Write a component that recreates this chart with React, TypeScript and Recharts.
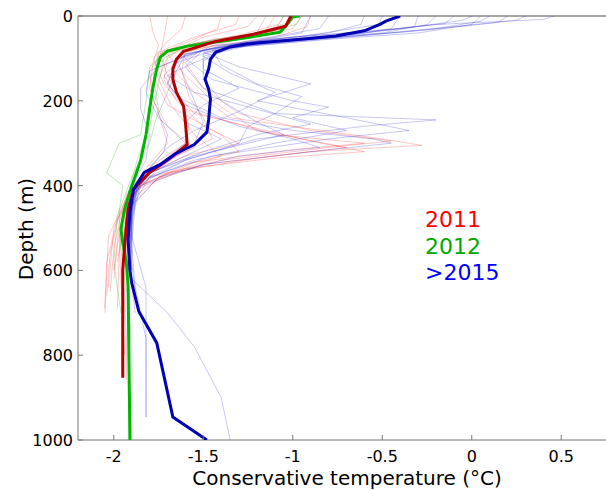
import { ScatterChart, Scatter, XAxis, YAxis, ReferenceLine } from 'recharts'

// profiles are [depth (m), conservative temperature (°C)] pairs
const mean2011 = [
  [0, -1.01], [24, -1.04], [43, -1.22], [61, -1.44], [83, -1.61], [102, -1.65],
  [125, -1.67], [149, -1.67], [180, -1.65], [213, -1.61], [250, -1.6], [303, -1.59],
  [340, -1.7], [369, -1.8], [409, -1.89], [456, -1.92], [496, -1.93], [544, -1.94],
  [600, -1.95], [700, -1.95], [853, -1.95],
]

const mean2012 = [
  [0, -0.96], [2, -1.0], [19, -1.03], [38, -1.07], [50, -1.24], [61, -1.42],
  [71, -1.59], [83, -1.7], [97, -1.74], [125, -1.76], [165, -1.78], [220, -1.8],
  [280, -1.82], [340, -1.85], [378, -1.88], [414, -1.91], [456, -1.94], [503, -1.96],
  [534, -1.95], [581, -1.93], [638, -1.92], [1000, -1.91],
]

const mean2015 = [
  [0, -0.4], [12, -0.48], [19, -0.51], [35, -0.6], [47, -0.76], [54, -0.94],
  [61, -1.12], [66, -1.26], [73, -1.35], [85, -1.43], [102, -1.46], [125, -1.47],
  [149, -1.49], [173, -1.47], [196, -1.46], [244, -1.47], [274, -1.48], [303, -1.55],
  [326, -1.66], [350, -1.74], [369, -1.83], [409, -1.89], [463, -1.91], [527, -1.92],
  [600, -1.91], [629, -1.9], [697, -1.86], [771, -1.76], [946, -1.67], [1000, -1.48],
]

const casts2011 = [
  [[0, -1.05], [20, -1.08], [45, -1.3], [70, -1.6], [100, -1.7], [150, -1.72], [200, -1.65], [260, -1.5], [300, -1.3], [330, -1.6], [380, -1.85], [450, -1.95], [550, -2.0], [650, -2.02]],
  [[0, -0.95], [30, -1.0], [55, -1.45], [80, -1.62], [120, -1.68], [180, -1.55], [240, -1.35], [290, -0.5], [305, -0.28], [320, -0.9], [350, -1.5], [400, -1.88], [500, -1.97], [600, -2.0]],
  [[0, -1.8], [40, -1.78], [70, -1.75], [110, -1.78], [170, -1.8], [230, -1.75], [300, -1.7], [360, -1.82], [420, -1.92], [520, -2.03], [700, -2.05]],
  [[0, -1.2], [25, -1.25], [50, -1.5], [90, -1.7], [140, -1.6], [200, -1.45], [270, -1.2], [310, -0.7], [335, -1.2], [370, -1.7], [430, -1.9], [560, -1.97], [690, -1.98]],
  [[0, -1.0], [15, -1.02], [40, -1.2], [65, -1.55], [95, -1.7], [150, -1.75], [210, -1.68], [280, -1.55], [330, -1.4], [380, -1.75], [460, -1.93], [600, -1.95], [760, -1.93], [860, -1.93]],
  [[0, -1.6], [30, -1.62], [60, -1.7], [100, -1.78], [160, -1.72], [220, -1.6], [280, -1.1], [300, -0.6], [315, -1.0], [345, -1.55], [400, -1.85], [480, -1.98], [580, -2.04], [690, -2.05]],
  [[0, -1.1], [35, -1.15], [60, -1.35], [85, -1.6], [130, -1.62], [190, -1.58], [240, -1.5], [290, -1.45], [330, -1.65], [390, -1.87], [470, -1.92], [560, -1.93]],
  [[0, -1.3], [20, -1.32], [50, -1.55], [80, -1.72], [130, -1.8], [200, -1.78], [260, -1.7], [310, -1.55], [340, -1.7], [400, -1.9], [500, -2.0], [640, -2.03]],
  [[0, -0.9], [25, -0.92], [50, -1.1], [75, -1.5], [110, -1.6], [170, -1.5], [230, -1.3], [270, -0.9], [295, -0.45], [310, -0.8], [340, -1.4], [380, -1.8], [440, -1.92], [540, -1.98], [620, -2.0]],
  [[0, -1.7], [50, -1.72], [90, -1.74], [140, -1.7], [200, -1.62], [260, -1.58], [300, -1.6], [350, -1.78], [420, -1.93], [520, -1.97], [620, -1.96], [800, -1.94]],
  [[0, -1.15], [40, -1.2], [70, -1.5], [100, -1.65], [160, -1.7], [230, -1.55], [290, -0.95], [320, -0.6], [335, -1.1], [360, -1.6], [410, -1.88], [500, -1.95], [580, -1.98]],
  [[0, -1.4], [30, -1.42], [60, -1.58], [90, -1.75], [150, -1.77], [210, -1.7], [280, -1.4], [320, -1.3], [350, -1.6], [400, -1.85], [470, -1.97], [560, -2.02], [660, -2.04]],
]

const casts2012 = [
  [[0, -1.0], [30, -1.05], [55, -1.4], [80, -1.7], [120, -1.8], [200, -1.82], [280, -1.85], [300, -1.97], [370, -2.04], [400, -1.95], [460, -1.97], [550, -1.96], [650, -1.93]],
  [[0, -0.95], [20, -0.98], [45, -1.2], [70, -1.6], [100, -1.72], [180, -1.76], [260, -1.8], [340, -1.87], [420, -1.92], [520, -1.94], [620, -1.92], [800, -1.9], [1000, -1.9]],
  [[0, -1.05], [35, -1.1], [60, -1.5], [85, -1.75], [140, -1.78], [220, -1.75], [300, -1.8], [380, -1.9], [470, -1.98], [580, -2.0], [700, -1.96]],
]

const casts2015 = [
  [[0, 0.46], [8, 0.4], [20, -0.2], [40, -0.6], [60, -1.2], [80, -1.5], [120, -1.6], [170, -1.5], [230, -1.1], [245, -0.2], [260, -0.6], [290, -1.2], [340, -1.6], [400, -1.87], [500, -1.9], [600, -1.9]],
  [[0, 0.2], [15, 0.15], [35, -0.3], [55, -0.9], [75, -1.4], [110, -1.65], [160, -1.7], [210, -1.6], [260, -1.3], [290, -1.0], [310, -0.85], [330, -1.3], [380, -1.75], [440, -1.88], [540, -1.9], [640, -1.88], [760, -1.82], [946, -1.82]],
  [[0, -0.3], [25, -0.32], [45, -0.7], [65, -1.3], [90, -1.6], [140, -1.72], [190, -1.65], [240, -1.4], [270, -1.0], [290, -0.55], [300, -0.45], [320, -0.9], [350, -1.5], [400, -1.85], [480, -1.9], [600, -1.92]],
  [[0, -0.6], [20, -0.62], [40, -0.8], [60, -1.2], [85, -1.55], [130, -1.8], [180, -1.82], [240, -1.75], [300, -1.6], [350, -1.75], [410, -1.88], [520, -1.92], [620, -1.9], [700, -1.7], [780, -1.55], [900, -1.4], [1000, -1.35]],
  [[0, 0.0], [10, -0.05], [30, -0.4], [50, -1.0], [70, -1.45], [100, -1.6], [150, -1.45], [200, -1.0], [215, -0.8], [240, -1.0], [270, -0.7], [300, -1.1], [340, -1.55], [390, -1.85], [470, -1.9], [560, -1.92]],
  [[0, -0.8], [30, -0.85], [55, -1.2], [80, -1.5], [120, -1.75], [170, -1.85], [220, -1.85], [280, -1.8], [340, -1.82], [400, -1.9], [480, -1.93], [580, -1.92]],
  [[0, -0.2], [20, -0.25], [40, -0.5], [60, -1.1], [85, -1.5], [120, -1.3], [160, -0.9], [200, -1.2], [240, -0.7], [270, -0.35], [290, -0.8], [330, -1.45], [380, -1.8], [450, -1.9], [550, -1.91], [650, -1.88]],
  [[0, 0.1], [12, 0.05], [30, -0.2], [50, -0.7], [75, -1.35], [110, -1.55], [140, -1.7], [180, -1.55], [220, -1.2], [255, -0.9], [280, -1.2], [320, -1.5], [370, -1.8], [430, -1.9], [530, -1.9]],
  [[0, -0.5], [20, -0.52], [45, -0.9], [70, -1.4], [100, -1.65], [150, -1.6], [200, -1.55], [250, -1.5], [300, -1.55], [360, -1.75], [420, -1.89], [520, -1.9], [640, -1.82], [946, -1.82]],
  [[0, -0.1], [18, -0.15], [35, -0.55], [55, -1.15], [80, -1.45], [115, -1.4], [160, -1.2], [190, -0.95], [230, -1.1], [260, -1.25], [300, -1.3], [340, -1.6], [390, -1.86], [460, -1.9], [560, -1.9]],
  [[0, -0.9], [40, -0.95], [65, -1.3], [90, -1.6], [130, -1.65], [180, -1.7], [230, -1.75], [280, -1.7], [320, -1.72], [380, -1.85], [450, -1.9], [600, -1.91], [700, -1.88]],
  [[0, 0.3], [10, 0.25], [25, -0.1], [45, -0.6], [65, -1.2], [90, -1.5], [125, -1.5], [170, -1.3], [210, -1.5], [250, -1.6], [290, -1.4], [330, -1.6], [380, -1.84], [450, -1.9], [540, -1.92]],
  [[0, -0.4], [30, -0.45], [50, -0.75], [70, -1.25], [95, -1.5], [135, -1.35], [180, -1.1], [225, -1.3], [270, -1.55], [310, -1.7], [360, -1.8], [410, -1.88], [500, -1.91], [600, -1.9]],
  [[0, 0.05], [20, 0.0], [40, -0.3], [55, -0.8], [75, -1.35], [105, -1.5], [150, -1.5], [200, -1.4], [250, -1.2], [280, -1.05], [300, -1.25], [330, -1.55], [370, -1.8], [420, -1.89]],
]

const tempTicks = [-2, -1.5, -1, -0.5, 0, 0.5]
const depthTicks = [0, 200, 400, 600, 800, 1000]
const legendLabels = ['2011', '2012', '>2015']
const legendColors = ['#ff0000', '#00a800', '#0000ff']

const FONT = '"DejaVu Sans", sans-serif'
const PLOT_LEFT = 78
const PLOT_BOTTOM = 440

const toPts = (rows: number[][]) => rows.map(([d, t]) => ({ d, t }))

const NoDot = () => <g />

const TempTick = ({ x, payload }: { x: number; payload: { value: number } }) => (
  <g>
    <line x1={x} x2={x} y1={PLOT_BOTTOM} y2={PLOT_BOTTOM - 5} stroke="#777" />
    <text x={x} y={462} textAnchor="middle" fontSize={16} fontFamily={FONT} fill="#000">
      {String(payload.value)}
    </text>
  </g>
)

const DepthTick = ({ y, payload }: { y: number; payload: { value: number } }) => (
  <g>
    <line x1={PLOT_LEFT} x2={PLOT_LEFT + 5} y1={y} y2={y} stroke="#777" />
    <text x={73} y={y + 6} textAnchor="end" fontSize={16} fontFamily={FONT} fill="#000">
      {String(payload.value)}
    </text>
  </g>
)

function thin(rows: number[][], color: string, key: string) {
  return (
    <Scatter
      key={key}
      data={toPts(rows)}
      fill={color}
      shape={NoDot}
      line={{ stroke: color, strokeWidth: 1, strokeOpacity: 0.25 }}
      isAnimationActive={false}
    />
  )
}

export default function App() {
  return (
    <div style={{ position: 'absolute', left: 0, top: 0, width: 606, height: 490 }}>
      <ScatterChart width={606} height={490} margin={{ top: 16, right: 0, bottom: 0, left: 0 }}>
        <XAxis
          type="number"
          dataKey="t"
          domain={[-2.2, 0.75]}
          ticks={tempTicks}
          allowDataOverflow
          height={50}
          stroke="#777"
          tickLine={false}
          tick={TempTick}
        />
        <YAxis
          type="number"
          dataKey="d"
          domain={[0, 1000]}
          ticks={depthTicks}
          reversed
          allowDataOverflow
          width={PLOT_LEFT}
          stroke="#777"
          tickLine={false}
          tick={DepthTick}
        />
        {casts2011.map((c, i) => thin(c, '#ff2020', 'r' + i))}
        {casts2012.map((c, i) => thin(c, '#00a000', 'g' + i))}
        {casts2015.map((c, i) => thin(c, '#2020d0', 'b' + i))}
        <Scatter
          data={toPts(mean2012)}
          fill="#00b000"
          shape={NoDot}
          line={{ stroke: '#00b400', strokeWidth: 3 }}
          isAnimationActive={false}
        />
        <Scatter
          data={toPts(mean2011)}
          fill="#b00000"
          shape={NoDot}
          line={{ stroke: '#b40000', strokeWidth: 3 }}
          isAnimationActive={false}
        />
        <Scatter
          data={toPts(mean2015)}
          fill="#0000b0"
          shape={NoDot}
          line={{ stroke: '#0000b4', strokeWidth: 3 }}
          isAnimationActive={false}
        />
        <ReferenceLine y={0} stroke="#888" strokeWidth={1.5} />
      </ScatterChart>
      <svg
        width={606}
        height={490}
        style={{ position: 'absolute', left: 0, top: 0, pointerEvents: 'none' }}
      >
        <text x={347} y={485} textAnchor="middle" fontSize={20} fontFamily={FONT} fill="#000">
          Conservative temperature (°C)
        </text>
        <text
          x={33}
          y={229}
          transform="rotate(-90 33 229)"
          textAnchor="middle"
          fontSize={20}
          fontFamily={FONT}
          fill="#000"
        >
          Depth (m)
        </text>
        {legendLabels.map((label, i) => (
          <text key={label} x={425} y={227 + i * 26.5} fontSize={22} fontFamily={FONT} fill={legendColors[i]}>
            {label}
          </text>
        ))}
      </svg>
    </div>
  )
}
